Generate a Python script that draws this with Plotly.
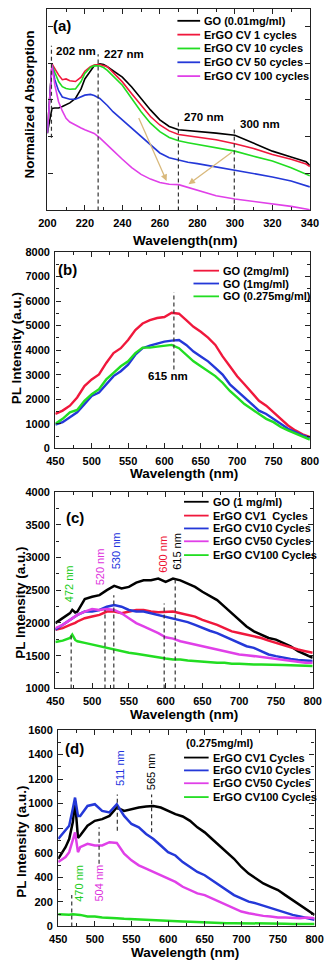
import plotly.graph_objects as go

FONT = "Liberation Sans"
W, H = 334, 968

# ---------------- (a) UV-vis absorption ----------------
wl_a = [200, 202.5, 204, 206, 208, 210, 212, 215, 218, 220, 223, 225, 228, 230, 232, 235,
        240, 245, 250, 255, 260, 265, 270, 275, 280, 290, 300, 310, 320, 330, 338, 340]
abs_go = [2.10, 2.77, 2.78, 2.78, 2.82, 2.86, 2.92, 3.04, 3.30, 3.57, 3.80, 3.93, 3.98, 3.96, 3.90, 3.80,
          3.62, 3.35, 3.04, 2.73, 2.46, 2.28, 2.19, 2.17, 2.16, 2.10, 2.04, 1.83, 1.61, 1.45, 1.32, 1.22]
abs_cv1 = [2.10, 3.98, 3.85, 3.68, 3.55, 3.57, 3.52, 3.50, 3.62, 3.78, 3.90, 3.95, 3.96, 3.94, 3.90, 3.75,
           3.49, 3.17, 2.86, 2.55, 2.32, 2.16, 2.06, 2.02, 1.98, 1.92, 1.81, 1.68, 1.52, 1.39, 1.26, 1.19]
abs_cv10 = [2.10, 3.95, 3.75, 3.50, 3.36, 3.31, 3.29, 3.30, 3.50, 3.72, 3.88, 3.93, 3.92, 3.88, 3.80, 3.66,
            3.40, 3.04, 2.68, 2.37, 2.14, 1.98, 1.89, 1.84, 1.79, 1.70, 1.61, 1.47, 1.34, 1.16, 1.00, 0.94]
abs_cv50 = [2.10, 3.95, 3.55, 3.25, 3.08, 3.04, 3.02, 3.02, 3.08, 3.13, 3.15, 3.12, 3.04, 2.95, 2.85, 2.68,
            2.46, 2.23, 2.01, 1.79, 1.56, 1.43, 1.36, 1.31, 1.27, 1.18, 1.10, 1.00, 0.91, 0.80, 0.68, 0.64]
abs_cv100 = [2.10, 3.95, 3.40, 2.95, 2.70, 2.50, 2.40, 2.31, 2.24, 2.19, 2.14, 2.09, 1.97, 1.88, 1.78, 1.63,
             1.39, 1.16, 0.98, 0.85, 0.76, 0.71, 0.70, 0.62, 0.54, 0.40, 0.31, 0.25, 0.18, 0.11, 0.04, 0.02]
names_a = ["GO (0.01mg/ml)", "ErGO CV 1 cycles", "ErGO CV 10 cycles", "ErGO CV 50 cycles", "ErGO CV 100 cycles"]
peak_a = [202.2, 227.1, 269.9, 299.7]
peak_a_top = [4.47, 4.24, 2.41, 2.28]
peak_a_bot = [1.97, 0, 0, 0]
peak_a_text = ["202 nm", "227 nm", "270 nm", "300 nm"]

# ---------------- (b) PL of GO, concentrations ----------------
wl_b = list(range(450, 801, 10))
pl_go2 = [1405, 1540, 1740, 2075, 2540, 2810, 3010, 3480, 3880, 4080, 4415, 4815, 5085, 5220, 5310, 5350,
          5525, 5485, 5220, 4950, 4750, 4510, 4215, 3745, 3345, 2940, 2610, 2275, 1940, 1740, 1470, 1205,
          935, 735, 575, 470]
pl_go1 = [965, 1070, 1270, 1470, 1805, 2140, 2275, 2610, 2945, 3145, 3410, 3815, 4080, 4185, 4280, 4350,
          4390, 4415, 4215, 3945, 3745, 3545, 3280, 3010, 2610, 2340, 2075, 1805, 1540, 1405, 1205, 1005,
          800, 670, 535, 440]
pl_go0275 = [1005, 1205, 1470, 1565, 1940, 2210, 2410, 2810, 3075, 3345, 3545, 3880, 4105, 4105, 4145, 4185,
             4215, 4080, 3815, 3545, 3345, 3145, 2945, 2675, 2340, 2075, 1805, 1605, 1405, 1205, 1070, 870,
             735, 600, 470, 360]
names_b = ["GO (2mg/ml)", "GO (1mg/ml)", "GO (0.275mg/ml)"]

# ---------------- (c) PL, 1 mg/ml ----------------
wl_c = [450, 460, 470, 473, 477] + list(range(480, 801, 10))
plc_go = [1997, 2072, 2150, 2200, 2160, 2173, 2364, 2400, 2424, 2500, 2565, 2525, 2550, 2615, 2650,
          2650, 2676, 2626, 2676, 2650, 2600, 2550, 2475, 2414, 2349, 2248, 2147, 2047, 1946, 1871,
          1820, 1770, 1745, 1695, 1644, 1569, 1518, 1468]
plc_cv1 = [1896, 1921, 1971, 1980, 2000, 2022, 2072, 2097, 2122, 2173, 2173, 2147, 2173, 2198, 2198,
           2173, 2163, 2173, 2173, 2147, 2122, 2097, 2047, 2012, 1971, 1921, 1871, 1845, 1820, 1795,
           1770, 1730, 1695, 1669, 1629, 1594, 1569, 1544]
plc_cv10 = [1896, 1971, 2047, 2070, 2100, 2122, 2173, 2173, 2198, 2248, 2273, 2248, 2198, 2173, 2173,
            2147, 2122, 2097, 2072, 2047, 2012, 1971, 1921, 1881, 1845, 1795, 1745, 1695, 1644, 1619,
            1569, 1518, 1493, 1468, 1450, 1435, 1425, 1418]
plc_cv50 = [1921, 1971, 2047, 2070, 2100, 2122, 2173, 2213, 2198, 2213, 2198, 2147, 2072, 1997, 1946,
            1896, 1845, 1780, 1760, 1720, 1695, 1669, 1644, 1619, 1594, 1569, 1544, 1518, 1508, 1493,
            1478, 1468, 1443, 1428, 1418, 1408, 1393, 1393]
plc_cv100 = [1710, 1730, 1770, 1820, 1740, 1720, 1695, 1669, 1644, 1619, 1594, 1569, 1544, 1528, 1508,
             1493, 1468, 1458, 1443, 1443, 1428, 1418, 1408, 1393, 1393, 1393, 1377, 1377, 1367, 1367,
             1367, 1367, 1357, 1357, 1352, 1352, 1342, 1342]
names_c = ["GO (1 mg/ml)", "ErGO CV1  Cycles", "ErGO CV10 Cycles", "ErGO CV50 Cycles", "ErGO CV100 Cycles"]
peak_c = [471.5, 517.5, 529.5, 598, 613]
peak_c_top = [1820, 2198, 2424, 2298, 2676]
peak_c_text = ["472 nm", "520 nm", "530 nm", "600 nm", "615 nm"]

# ---------------- (d) PL, 0.275 mg/ml ----------------
wl_d = [450, 460, 465, 470, 473, 477] + list(range(480, 801, 10))
pld_cv1 = [551, 645, 712, 850, 1020, 720, 740, 820, 860, 874, 900, 968, 941, 955, 968, 976,
           981, 968, 941, 914, 895, 860, 807, 766, 712, 659, 605, 551, 484, 430, 390, 350,
           323, 296, 255, 215, 175, 134, 94]
pld_cv10 = [712, 780, 820, 960, 1049, 900, 900, 981, 995, 941, 928, 995, 900, 834, 807, 753,
            712, 659, 605, 578, 524, 484, 444, 417, 376, 336, 296, 255, 228, 202, 188, 169,
            153, 134, 116, 94, 81, 67, 54]
pld_cv50 = [524, 565, 605, 700, 766, 605, 645, 672, 659, 659, 686, 680, 592, 538, 497, 471,
            444, 417, 390, 363, 323, 296, 269, 255, 228, 202, 175, 148, 121, 108, 94, 86,
            81, 73, 73, 67, 67, 73, 67]
pld_cv100 = [100, 94, 95, 100, 98, 96, 94, 81, 81, 73, 67, 67, 62, 59, 54, 54,
             48, 48, 40, 40, 40, 38, 35, 35, 35, 30, 27, 27, 27, 27, 25, 25,
             22, 22, 22, 20, 20, 20, 19]
names_d = ["ErGO CV1 Cycles", "ErGO CV10 Cycles", "ErGO CV50 Cycles", "ErGO CV100 Cycles"]
peak_d = [468.5, 505.8, 530.7, 577.5]
peak_d_top = [255, 807, 1075, 1075]
peak_d_bot = [0, 510, 780, 766]
peak_d_text = ["470 nm", "504 nm", "511 nm", "565 nm"]

BLACK, RED, GREEN, BLUE, MAG = "#000000", "#f0183c", "#22dd22", "#2438d8", "#e040e8"
TXT_GREEN, TXT_MAG, TXT_BLUE, TXT_RED = "#22cc22", "#dd33dd", "#2233dd", "#ee1133"


def px(x, y):
    return x / W, 1 - y / H


def frame(dom, rng, dtick, minor, anchor, labels=True):
    return dict(domain=dom, range=rng, dtick=dtick, tick0=rng[0], anchor=anchor,
                showline=True, linecolor="#222", linewidth=1.4, mirror="ticks",
                ticks="inside", ticklen=5, tickwidth=1.2, tickcolor="#222",
                minor=dict(ticks="inside", ticklen=3, dtick=minor, tickcolor="#222", tickwidth=1),
                showgrid=False, zeroline=False, showticklabels=labels,
                tickfont=dict(family=FONT, size=11, color="black", weight="bold"),
                ticklabelstandoff=2)


fig = go.Figure()

panels = [
    ("x", "y", wl_a, [abs_go, abs_cv1, abs_cv10, abs_cv50, abs_cv100], [BLACK, RED, GREEN, BLUE, MAG], 1.6),
    ("x2", "y2", wl_b, [pl_go2, pl_go1, pl_go0275], [RED, BLUE, GREEN], 2.4),
    ("x3", "y3", wl_c, [plc_go, plc_cv1, plc_cv10, plc_cv50, plc_cv100], [BLACK, RED, BLUE, MAG, GREEN], 2.5),
    ("x4", "y4", wl_d, [pld_cv1, pld_cv10, pld_cv50, pld_cv100], [BLACK, BLUE, MAG, GREEN], 2.5),
]
all_names = [names_a, names_b, names_c, names_d]
for (xa, ya, wl, series, cols, lw), names in zip(panels, all_names):
    for vals, col, nm in zip(series, cols, names):
        fig.add_trace(go.Scatter(x=wl, y=vals, mode="lines", name=nm, xaxis=xa, yaxis=ya,
                                 line=dict(color=col, width=lw), showlegend=False))

dash = dict(color="#333333", width=1.2, dash="4px,3px")


def vline(xa, ya, x, y0, y1):
    fig.add_trace(go.Scatter(x=[x, x], y=[y0, y1], mode="lines", xaxis=xa, yaxis=ya,
                             line=dash, showlegend=False, hoverinfo="skip"))


for p, t, b in zip(peak_a, peak_a_top, peak_a_bot):
    vline("x", "y", p, b, t)
vline("x2", "y2", 613, 3210, 6355)
for p, t in zip(peak_c, peak_c_top):
    vline("x3", "y3", p, 1000, t)
for p, t, b in zip(peak_d, peak_d_top, peak_d_bot):
    vline("x4", "y4", p, b, t)


def dom_x(l, r):
    return [l / W, r / W]


def dom_y(t, b):
    return [1 - b / H, 1 - t / H]


fig.update_layout(
    width=W, height=H, margin=dict(l=0, r=0, t=0, b=0),
    paper_bgcolor="white", plot_bgcolor="white", showlegend=False,
    font=dict(family=FONT, color="black"),
    xaxis=frame(dom_x(40.5, 318), [200, 340], 20, 10, "y"),
    yaxis=frame(dom_y(3, 207), [0, 5.47], 1, 0.5, "x", labels=False),
    xaxis2=frame(dom_x(49, 318), [450, 800], 50, 25, "y2"),
    yaxis2=frame(dom_y(249, 448), [0, 8000], 1000, 500, "x2"),
    xaxis3=frame(dom_x(49, 321), [450, 800], 50, 25, "y3"),
    yaxis3=frame(dom_y(492, 691), [1000, 4000], 500, 250, "x3"),
    xaxis4=frame(dom_x(52, 323), [450, 800], 50, 25, "y4"),
    yaxis4=frame(dom_y(733, 932), [0, 1600], 200, 100, "x4"),
)
fig.layout.yaxis.minor.ticks = ""

ann = []


def ptext(x, y, text, size=13.5, bold=True, angle=0, color="black", anchor="center"):
    xp, yp = px(x, y)
    ann.append(dict(x=xp, y=yp, xref="paper", yref="paper", text=text, showarrow=False,
                    textangle=angle, xanchor=anchor, yanchor="middle",
                    font=dict(family=FONT, size=size, color=color,
                              weight="bold" if bold else "normal")))


# axis titles
ptext(187, 237, "Wavelength(nm)")
ptext(185, 473, "Wavelength (nm)")
ptext(185, 717, "Wavelength (nm)")
ptext(186, 958, "Wavelength (nm)")
ptext(22, 100, "Normalized Absorption", angle=-90)
ptext(8, 347, "PL Intensity (a.u.)", angle=-90)
ptext(12, 604, "PL Intensity (a.u.)", angle=-90)
ptext(13, 846, "PL Intensity (a.u.)", angle=-90)

# panel tags
ptext(56, 20, "(a)", size=15)
ptext(62, 267, "(b)", size=15)
ptext(70, 518, "(c)", size=15)
ptext(69, 752, "(d)", size=15)

# legends drawn as line samples + text
shapes = []


def legend(rows, names, cols, x0, x1):
    for yy, nm, col in zip(rows, names, cols):
        a, b = px(x0, yy)
        c, _ = px(x1, yy)
        shapes.append(dict(type="line", xref="paper", yref="paper", x0=a, x1=c, y0=b, y1=b,
                           line=dict(color=col, width=1.8)))
        ptext(x1 + 2, yy, nm, size=11, anchor="left")


legend([15, 29, 43, 57, 71], names_a, [BLACK, RED, GREEN, BLUE, MAG], 178, 202)
legend([268, 281, 294], names_b, [RED, BLUE, GREEN], 195, 222)
legend([502, 516, 529, 542, 556], names_c, [BLACK, RED, BLUE, MAG, GREEN], 185, 211)
ptext(185, 746, "(0.275mg/ml)", size=11, anchor="left")
legend([761, 774, 787, 801], names_d, [BLACK, BLUE, MAG, GREEN], 185, 211)


def dtext(xa, ya, x, y, text, color="black", angle=0, bold=True, anchor="left"):
    ann.append(dict(x=x, y=y, xref=xa, yref=ya, text=text, showarrow=False, textangle=angle,
                    xanchor=anchor, yanchor="middle",
                    font=dict(family=FONT, size=11.5 if bold else 11, color=color,
                              weight="bold" if bold else "normal")))


# peak labels
for (x, y), t in zip([(203.5, 4.32), (229.4, 4.26), (271.8, 2.55), (301.8, 2.36)], peak_a_text):
    dtext("x", "y", x, y, t)
dtext("x2", "y2", 604.8, 2943, "615 nm", anchor="center")
for (x, y), t, c in zip([(468, 2600), (511, 2852), (532, 3104), (596, 3053), (614.5, 3090)], peak_c_text,
                        [TXT_GREEN, TXT_MAG, TXT_BLUE, TXT_RED, BLACK]):
    dtext("x3", "y3", x, y, t, color=c, angle=-90, bold=False, anchor="center")
for (x, y), t, c in zip([(478.8, 350), (505.8, 350), (533.7, 1285), (576.7, 1256)], peak_d_text,
                        [TXT_GREEN, TXT_MAG, TXT_BLUE, BLACK]):
    dtext("x4", "y4", x, y, t, color=c, angle=-90, bold=False, anchor="center")

# arrows in (a)
for (hx, hy, tx, ty) in [(263.6, 0.80, 248.4, 2.55), (275.3, 0.71, 299.2, 1.61)]:
    ann.append(dict(x=hx, y=hy, ax=tx, ay=ty, xref="x", yref="y", axref="x", ayref="y",
                    text="", showarrow=True, arrowhead=2, arrowsize=1, arrowwidth=1.3,
                    arrowcolor="#d9b97c"))

fig.update_layout(annotations=ann, shapes=shapes)
fig.write_html("out.html", config={"displayModeBar": False},
               post_script="document.body.style.margin='0';document.body.style.overflow='hidden';")
